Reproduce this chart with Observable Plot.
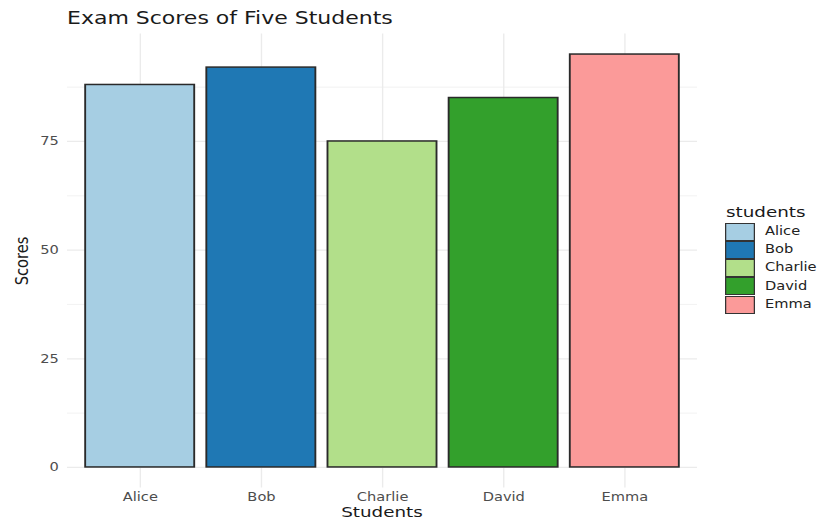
<!DOCTYPE html>
<html><head><meta charset="utf-8">
<script src="https://cdn.jsdelivr.net/npm/d3@7"></script>
<script src="https://cdn.jsdelivr.net/npm/@observablehq/plot@0.6"></script>
<style>
html,body{margin:0;padding:0;background:#fff;}
#stage{position:relative;width:661px;height:520px;transform:scaleX(1.25);transform-origin:0 0;font-family:"DejaVu Sans",sans-serif;overflow:visible;}
#stage svg{position:absolute;left:0;top:0;}
.txt{position:absolute;line-height:1;white-space:nowrap;}
#title{left:53.6px;top:10px;font-size:17.6px;color:#1a1a1a;}
#xtitle{left:53.6px;width:504px;top:505px;text-align:center;font-size:14.67px;color:#1a1a1a;}
#ytitle{left:17.6px;top:260.5px;font-size:14.67px;color:#1a1a1a;transform:translate(-50%,-50%) rotate(-90deg);}
#ltitle{left:580.8px;top:204.6px;font-size:14.67px;color:#1a1a1a;}
.key{position:absolute;box-sizing:border-box;border:1.4px solid #333;}
.klab{position:absolute;font-size:11.7px;line-height:1;color:#222;white-space:nowrap;}
</style></head>
<body>
<div id="stage">
  <div id="title" class="txt">Exam Scores of Five Students</div>
  <div id="xtitle" class="txt">Students</div>
  <div id="ytitle" class="txt">Scores</div>
  <div id="ltitle" class="txt">students</div>
  <div id="legend"></div>
</div>
<script>
const students = ["Alice", "Bob", "Charlie", "David", "Emma"];
const scores = [88, 92, 75, 85, 95];
const colors = ["#A6CEE3", "#1F78B4", "#B2DF8A", "#33A02C", "#FB9A99"];
const yTicks = [0, 25, 50, 75];
const yMinorTicks = [12.5, 37.5, 62.5, 87.5];
const legendTitle = "students";

const data = students.map((s, i) => ({student: s, score: scores[i]}));

const chart = Plot.plot({
  width: 661,
  height: 520,
  marginLeft: 53.6,
  marginRight: 103.4,
  marginTop: 33.4,
  marginBottom: 32.4,
  style: {fontFamily: "'DejaVu Sans', sans-serif", fontSize: "11.7px", color: "#4d4d4d", background: "transparent", overflow: "visible"},
  x: {type: "band", domain: students, paddingInner: 0.1, paddingOuter: 0.15, round: false, axis: null, label: null},
  y: {domain: [-4.75, 99.75], axis: null, label: null},
  color: {domain: students, range: colors},
  marks: [
    Plot.gridY(yMinorTicks, {stroke: "#ebebeb", strokeOpacity: 1, strokeWidth: 0.6}),
    Plot.gridY(yTicks, {stroke: "#ebebeb", strokeOpacity: 1, strokeWidth: 1.2}),
    Plot.gridX(students, {stroke: "#ebebeb", strokeOpacity: 1, strokeWidth: 1.1}),
    Plot.barY(data, {x: "student", y: "score", fill: "student", stroke: "#2a2a2a", strokeWidth: 1.5}),
    Plot.axisY(yTicks, {tickSize: 0, tickPadding: 7, label: null, fill: "#4d4d4d"}),
    Plot.axisX(students, {tickSize: 0, tickPadding: 4.5, label: null, fill: "#4d4d4d"})
  ]
});
document.getElementById("stage").prepend(chart);

const legend = document.getElementById("legend");
document.getElementById("ltitle").textContent = legendTitle;
const keyTop = 222.7, keyH = 18.2;
students.forEach((s, i) => {
  const k = document.createElement("div");
  k.className = "key";
  k.style.left = "580px";
  k.style.top = (keyTop + i * keyH) + "px";
  k.style.width = "24px";
  k.style.height = keyH + "px";
  k.style.background = colors[i];
  legend.appendChild(k);
  const t = document.createElement("div");
  t.className = "klab";
  t.textContent = s;
  t.style.left = "612px";
  t.style.top = (keyTop + i * keyH + keyH / 2 - 5.9) + "px";
  legend.appendChild(t);
});
</script>
</body></html>
